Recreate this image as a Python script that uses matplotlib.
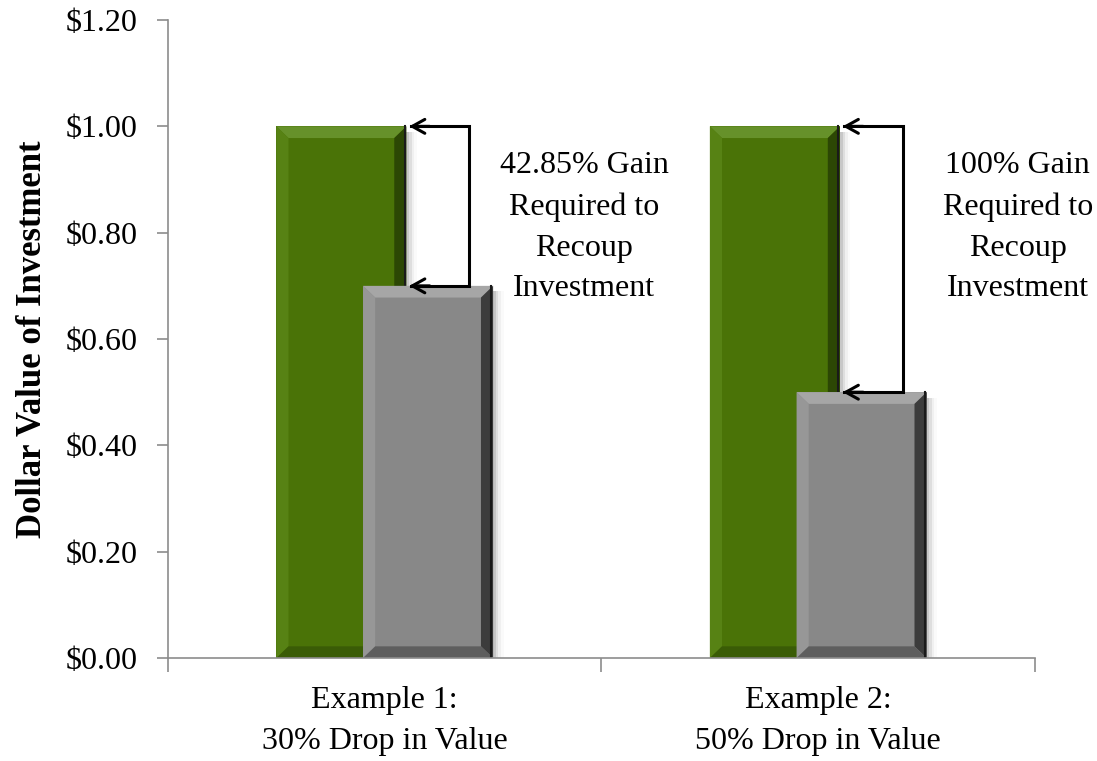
import matplotlib.pyplot as plt
from matplotlib.patches import Rectangle, Polygon
import numpy as np

# data
categories = ["Example 1:\n30% Drop in Value", "Example 2:\n50% Drop in Value"]
initial_value = [1.00, 1.00]
after_drop = [0.70, 0.50]
gain_labels = ["42.85% Gain\nRequired to\nRecoup\nInvestment",
               "100% Gain\nRequired to\nRecoup\nInvestment"]
y_ticks = [0.0, 0.2, 0.4, 0.6, 0.8, 1.0, 1.2]

serif = "Liberation Serif"
axis_color = "#8c8c8c"
width = 0.30
offset = 0.10

# face, top, left, right, bottom colors for a bevel look
green_style = ("#4a7307", "#66912a", "#578214", "#2c4704", "#3a5c06")
gray_style = ("#888888", "#a6a6a6", "#979797", "#3c3c3c", "#5e5e5e")

fig = plt.figure(figsize=(10.97, 7.61), dpi=100)
ax = fig.add_axes([0.1531, 0.1353, 0.7904, 0.8384])

bx, by = 0.028, 0.022  # bevel depth (data units)


def bevel_bar(x0, h, style, z):
    face, top, left, right, bottom = style
    x1 = x0 + width
    # soft shadow on the right
    for i, a in enumerate([0.10, 0.07, 0.04, 0.02]):
        ax.add_patch(Rectangle((x1, 0), 0.006 * (i + 1), h - 0.01, color="black",
                               alpha=a, lw=0, zorder=z))
    ax.add_patch(Rectangle((x0, 0), width, h, facecolor=face, lw=0, zorder=z + 0.1))
    ax.add_patch(Polygon([(x0, h), (x1, h), (x1 - bx, h - by), (x0 + bx, h - by)],
                         closed=True, facecolor=top, lw=0, zorder=z + 0.2))
    ax.add_patch(Polygon([(x0, 0), (x0, h), (x0 + bx, h - by), (x0 + bx, by)],
                         closed=True, facecolor=left, lw=0, zorder=z + 0.2))
    ax.add_patch(Polygon([(x1, 0), (x1, h), (x1 - bx, h - by), (x1 - bx, by)],
                         closed=True, facecolor=right, lw=0, zorder=z + 0.2))
    ax.add_patch(Polygon([(x0, 0), (x1, 0), (x1 - bx, by), (x0 + bx, by)],
                         closed=True, facecolor=bottom, lw=0, zorder=z + 0.2))
    ax.plot([x1 - 0.004, x1 - 0.004], [0, h], color="#1a1a1a", lw=1.5, zorder=z + 0.3)


x = np.arange(len(categories))
for i in x:
    bevel_bar(i - offset - width / 2, initial_value[i], green_style, 2)
    bevel_bar(i + offset - width / 2, after_drop[i], gray_style, 3)

    # bracket arrows
    x_left = i - offset + width / 2
    x_br = x_left + 0.145
    ax.plot([x_left + 0.01, x_br, x_br, x_left + 0.01],
            [initial_value[i], initial_value[i], after_drop[i], after_drop[i]],
            color="black", lw=2.2, zorder=5, solid_joinstyle="miter")
    for yv in (initial_value[i], after_drop[i]):
        ax.annotate("", xy=(x_left, yv), xytext=(x_left + 0.06, yv),
                    arrowprops=dict(arrowstyle="->,head_length=0.9,head_width=0.5",
                                    lw=2.2, color="black"), zorder=6)
    ax.text(i + 0.46, 0.81, gain_labels[i], ha="center", va="center",
            fontsize=23, family=serif, linespacing=1.53)

ax.set_xlim(-0.5, 1.5)
ax.set_ylim(0, 1.2)
ax.set_yticks(y_ticks)
ax.set_yticklabels(["$%.2f" % v for v in y_ticks], fontsize=23, family=serif)
ax.set_xticks(x)
ax.set_xticklabels(categories, fontsize=23, family=serif, linespacing=1.55)
ax.set_xticks([-0.5, 0.5, 1.5], minor=True)
ax.tick_params(axis="x", which="major", length=0, pad=20)
ax.tick_params(axis="x", which="minor", length=10, color=axis_color, width=1.2)
ax.tick_params(axis="y", length=8, color=axis_color, width=1.2, pad=14)
ax.set_ylabel("Dollar Value of Investment", fontsize=25, family=serif,
              fontweight="bold", labelpad=12)

for s in ["top", "right"]:
    ax.spines[s].set_visible(False)
for s in ["left", "bottom"]:
    ax.spines[s].set_color(axis_color)
    ax.spines[s].set_linewidth(1.2)
ax.spines["bottom"].set_zorder(10)

fig.savefig("out.png", dpi=100, facecolor="white")
